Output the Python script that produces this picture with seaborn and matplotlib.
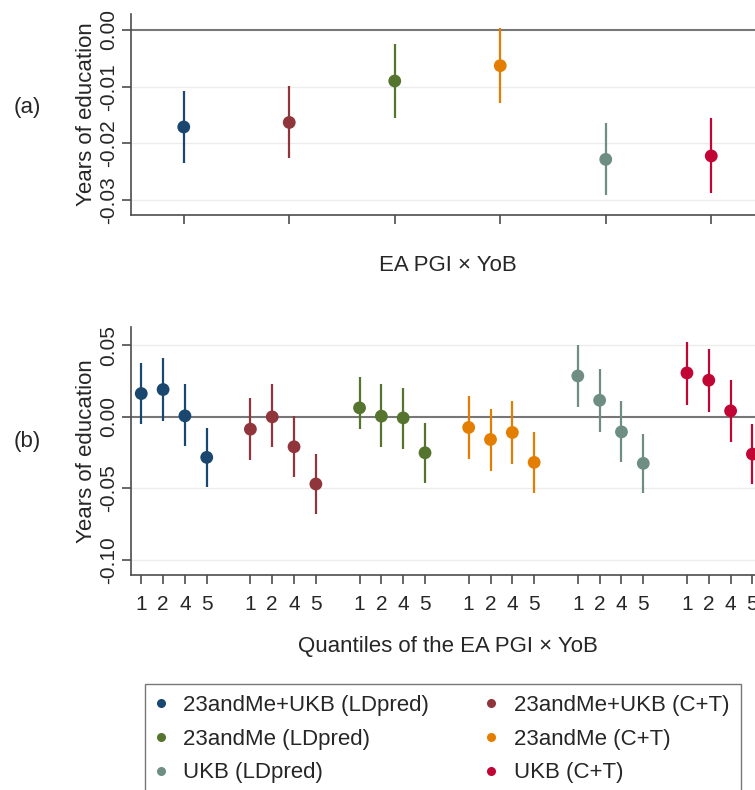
import numpy as np
import pandas as pd
import seaborn as sns
import matplotlib.pyplot as plt
from matplotlib.lines import Line2D

# six PGI versions, in plotting order
groups = ['23andMe+UKB (LDpred)', '23andMe+UKB (C+T)', '23andMe (LDpred)',
          '23andMe (C+T)', 'UKB (LDpred)', 'UKB (C+T)']
colors = ['#1a476f', '#90353b', '#55752f', '#e37e00', '#6e8e84', '#c10534']

# panel (a): EA PGI x YoB
a_est = [-0.0171, -0.0163, -0.0090, -0.0063, -0.0228, -0.0222]
a_lo = [-0.0234, -0.0226, -0.0156, -0.0129, -0.0291, -0.0287]
a_hi = [-0.0107, -0.0098, -0.0025, 0.0003, -0.0164, -0.0156]

# panel (b): quantiles 1, 2, 4, 5 of EA PGI x YoB
quantiles = ['1', '2', '4', '5']
b_est = [[0.0163, 0.0191, 0.0007, -0.0283],
         [-0.0086, 0.0000, -0.0209, -0.0469],
         [0.0063, 0.0005, -0.0007, -0.0251],
         [-0.0074, -0.0158, -0.0109, -0.0318],
         [0.0286, 0.0116, -0.0105, -0.0325],
         [0.0307, 0.0256, 0.0042, -0.0260]]
b_lo = [[-0.0053, -0.0028, -0.0204, -0.0492],
        [-0.0304, -0.0209, -0.0423, -0.0679],
        [-0.0088, -0.0209, -0.0228, -0.0460],
        [-0.0295, -0.0379, -0.0330, -0.0530],
        [0.0070, -0.0105, -0.0316, -0.0534],
        [0.0086, 0.0035, -0.0179, -0.0469]]
b_hi = [[0.0379, 0.0411, 0.0228, -0.0081],
        [0.0133, 0.0228, 0.0007, -0.0260],
        [0.0279, 0.0228, 0.0205, -0.0046],
        [0.0144, 0.0058, 0.0112, -0.0105],
        [0.0505, 0.0333, 0.0112, -0.0123],
        [0.0523, 0.0477, 0.0256, -0.0051]]

sns.set_theme(style='white')
plt.rcParams['font.family'] = ['Liberation Sans', 'DejaVu Sans']
FS = 16      # axis labels, legend, panel tags
TFS = 15     # tick labels
SPINE = '#4d4d4d'

df_a = pd.DataFrame({'group': groups, 'x': np.arange(1, 7), 'est': a_est,
                     'lo': a_lo, 'hi': a_hi})
rows = []
for g, name in enumerate(groups):
    for k, q in enumerate(quantiles):
        rows.append({'group': name, 'x': g * 5 + k, 'q': q,
                     'est': b_est[g][k], 'lo': b_lo[g][k], 'hi': b_hi[g][k]})
df_b = pd.DataFrame(rows)
pal = dict(zip(groups, colors))

fig = plt.figure(figsize=(7.55, 7.9), dpi=100)
ax_a = fig.add_axes([131 / 755, 1 - 215 / 790, 633 / 755, 201 / 790])
ax_b = fig.add_axes([131 / 755, 1 - 575 / 790, 633 / 755, 248 / 790])


def style_axis(ax, yticks, fmt):
    for s in ['top', 'right']:
        ax.spines[s].set_visible(False)
    for s in ['left', 'bottom']:
        ax.spines[s].set_color(SPINE)
        ax.spines[s].set_linewidth(1.2)
    ax.set_yticks(yticks)
    ax.set_yticklabels([fmt % v for v in yticks], rotation=90, va='center',
                       fontsize=TFS)
    ax.tick_params(axis='both', direction='out', length=6.5, width=1.2,
                   color=SPINE, left=True, bottom=True)
    ax.tick_params(axis='y', pad=3)
    for v in yticks:
        if abs(v) > 1e-12:
            ax.axhline(v, color='#ececec', lw=1, zorder=0)
    ax.axhline(0, color='#777777', lw=1.5, zorder=1)
    ax.set_ylabel('Years of education', fontsize=FS, labelpad=1)


def draw(ax, df):
    ax.vlines(df['x'], df['lo'], df['hi'], colors=[pal[g] for g in df['group']],
              lw=1.6, zorder=2)
    sns.scatterplot(data=df, x='x', y='est', hue='group', palette=pal,
                    s=85, edgecolor='none', legend=False, ax=ax, zorder=3)


# panel (a)
draw(ax_a, df_a)
style_axis(ax_a, [-0.03, -0.02, -0.01, 0.0], '%.2f')
ax_a.set_xlim(0.5, 6.5)
ax_a.set_ylim(-0.0326, 0.0028)
ax_a.set_xticks(df_a['x'])
ax_a.set_xticklabels([])
ax_a.set_xlabel('EA PGI × YoB', fontsize=FS, labelpad=19)

# panel (b)
draw(ax_b, df_b)
style_axis(ax_b, [-0.10, -0.05, 0.0, 0.05], '%.2f')
ax_b.set_xlim(-0.47, 28.53)
ax_b.set_ylim(-0.1105, 0.0628)
ax_b.set_xticks(df_b['x'])
ax_b.set_xticklabels(df_b['q'], fontsize=TFS)
ax_b.tick_params(axis='x', pad=8)
ax_b.set_xlabel('Quantiles of the EA PGI × YoB', fontsize=FS, labelpad=16)

fig.text(27 / 755, 1 - 108 / 790, '(a)', fontsize=FS, ha='center', va='center')
fig.text(27 / 755, 1 - 441 / 790, '(b)', fontsize=FS, ha='center', va='center')

# legend filled row by row: handles ordered column-wise for matplotlib
order = [0, 2, 4, 1, 3, 5]
handles = [Line2D([], [], ls='none', marker='o', markersize=6.5,
                  markerfacecolor=colors[i], markeredgecolor='none')
           for i in order]
labels = [groups[i] for i in order]
leg = fig.legend(handles, labels, loc='upper left', ncol=2, fontsize=FS,
                 bbox_to_anchor=(145 / 755, 1 - 684 / 790),
                 frameon=True, fancybox=False,
                 handlelength=0.4, handletextpad=0.82, labelspacing=0.57,
                 borderpad=0.5, borderaxespad=0, columnspacing=2.6)
leg.get_frame().set_edgecolor('#555555')
leg.get_frame().set_linewidth(1.0)

fig.savefig('out.png', dpi=100)
